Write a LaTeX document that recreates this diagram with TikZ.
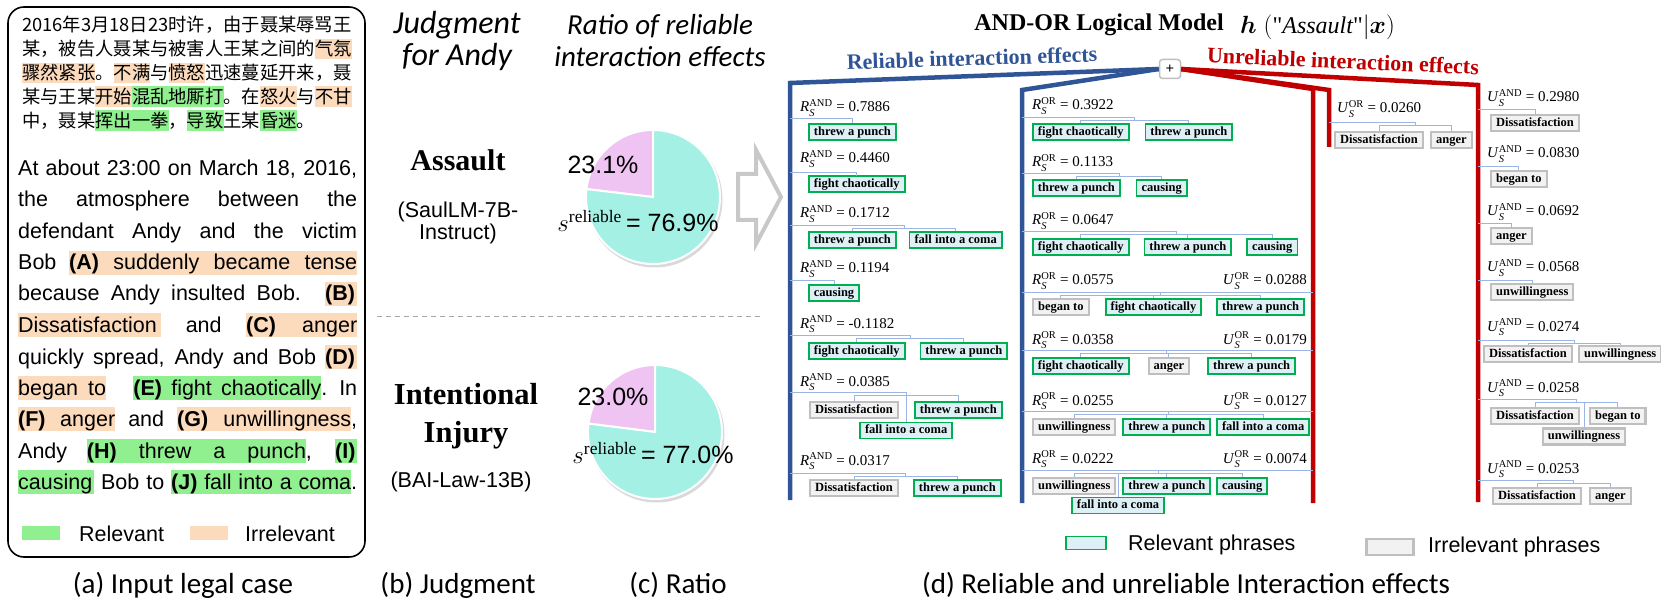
\documentclass[tikz,border=0pt]{standalone}
\usepackage{fontspec}
\usepackage{amsmath}
\setmainfont{Liberation Serif}
\newfontfamily\arialf{Liberation Sans}
\newfontfamily\calf{Carlito}
\newfontfamily\cjk{Noto Sans CJK SC}
\usetikzlibrary{positioning,calc}

\definecolor{hlgr}{RGB}{144,240,144}
\definecolor{hlor}{RGB}{252,218,188}
\definecolor{piepink}{RGB}{239,196,243}
\definecolor{piecyan}{RGB}{164,240,228}
\definecolor{relblue}{RGB}{47,85,151}
\definecolor{unrred}{RGB}{192,0,0}
\definecolor{treeblue}{RGB}{155,182,228}
\definecolor{boxgreen}{RGB}{0,176,80}
\definecolor{boxcyan}{RGB}{221,240,245}
\definecolor{boxgrey}{RGB}{191,191,191}
\definecolor{boxpale}{RGB}{242,242,242}
\definecolor{arrowgrey}{RGB}{200,200,200}

\setlength{\fboxsep}{0pt}
\newcommand\eng{\arialf\fontsize{21.5}{25}\selectfont}
\newcommand\zhf{\cjk\fontsize{18.3}{24}\selectfont}
\newcommand\capf{\calf\fontsize{29}{32}\selectfont}
\newcommand\boxf{\bfseries\fontsize{12.5}{14}\selectfont}
\newcommand\efff{\fontsize{15}{17}\selectfont}
% highlighted phrases of the case text
\newcommand\hlo[2]{\colorbox{hlor}{\makebox[#1pt][s]{\rule[-5pt]{0pt}{24pt}#2}}}
\newcommand\hlg[2]{\colorbox{hlgr}{\makebox[#1pt][s]{\rule[-5pt]{0pt}{24pt}#2}}}
\newcommand\zho[1]{\colorbox{hlor}{\rule[-3.5pt]{0pt}{20.5pt}#1}}
\newcommand\zhg[1]{\colorbox{hlgr}{\rule[-3.5pt]{0pt}{20.5pt}#1}}
\newcommand\rs[2]{\textit{#1}$_{\textit{S}}^{\text{#2}}$}
% tree from a root point on an axis down to its phrase boxes
\newcommand\kidtree[4]{%
  \path ($(#2.center)!.5!(#3.center)$) coordinate (jn);
  \draw[tline] (#1) -- (#1 -| jn) -- ($(#1 -| jn)+(0,3)$);
  \draw[tline] ($(#1 -| #2)+(0,3)$) -- ($(#1 -| #3)+(0,3)$);
  \foreach \kid in {#4} {\draw[tline] ($(#1 -| \kid)+(0,3)$) -- (\kid.north);}
}

\begin{document}
\begin{tikzpicture}[x=1pt, y=-1pt,
    rel/.style={draw=boxgreen, fill=boxcyan, line width=1.8pt, inner xsep=5pt, inner ysep=0pt,
      minimum height=16pt, text height=9pt, text depth=2.5pt, font=\boxf, anchor=west},
    irr/.style={rel, draw=boxgrey, fill=boxpale, line width=2.2pt},
    tline/.style={draw=treeblue, line width=0.9pt},
    eff/.style={anchor=base west, inner sep=0pt, font=\efff},
    effr/.style={eff, anchor=base east},
    relax/.style={draw=relblue, line width=4.5pt},
    unrax/.style={draw=unrred, line width=4.5pt},
    engl/.style={anchor=base west, inner sep=0pt, font=\eng},
    zhl/.style={anchor=base west, inner sep=0pt, font=\zhf},
    capt/.style={font=\capf, inner sep=0pt}
]
\useasboundingbox (0,0) rectangle (1661,601);

% (a) input legal case
\draw[line width=1.6pt, rounded corners=16pt] (8,7) rectangle (365,557);
\node[zhl] (zh0) at (22,32) {2016年3月18日23时许，由于聂某辱骂王};
\node[zhl] (zh1) at (22,55.8) {某，被告人聂某与被害人王某之间的\zho{气氛}};
\node[zhl] (zh2) at (22,79.6) {\zho{骤然紧张}。\zho{不满}与\zho{愤怒}迅速蔓延开来，聂};
\node[zhl] (zh3) at (22,103.4) {某与王某\zho{开始}\zhg{混乱地厮打}。在\zho{怒火}与\zho{不甘}};
\node[zhl] (zh4) at (22,127.2) {中，聂某\zhg{挥出一拳}，\zhg{导致}王某\zhg{昏迷}。};

\node[engl] (en0) at (18,176) {\makebox[339pt][s]{At about 23:00 on March 18, 2016,}};
\node[engl] (en1) at (18,207) {\makebox[339pt][s]{the atmosphere between the}};
\node[engl] (en2) at (18,239) {\makebox[339pt][s]{defendant Andy and the victim}};
\node[engl] (en3) at (18,270) {\makebox[339pt][s]{Bob \hlo{288}{\textbf{(A)} suddenly became tense}}};
\node[engl] (en4) at (18,301) {\makebox[339pt][s]{because Andy insulted Bob. \hlo{32}{\textbf{(B)}}}};
\node[engl] (en5) at (18,332) {\makebox[339pt][s]{\hlo{143}{Dissatisfaction} and \hlo{111}{\textbf{(C)} anger}}};
\node[engl] (en6) at (18,364) {\makebox[339pt][s]{quickly spread, Andy and Bob \hlo{32}{\textbf{(D)}}}};
\node[engl] (en7) at (18,395) {\makebox[339pt][s]{\hlo{88}{began to} \hspace{20pt}\hlg{188}{\textbf{(E)} fight chaotically}. In}};
\node[engl] (en8) at (18,426) {\makebox[339pt][s]{\hlo{97}{\textbf{(F)} anger} and \hlo{174}{\textbf{(G)} unwillingness},}};
\node[engl] (en9) at (18,458) {\makebox[339pt][s]{Andy \hlg{219}{\textbf{(H)} threw a punch}, \hlg{22}{\textbf{(I)}}}};
\node[engl] (en10) at (18,489) {\makebox[339pt][s]{\hlg{76}{causing} Bob to \hlg{180}{\textbf{(J)} fall into a coma}.}};

\node[fill=hlgr, minimum width=38pt, minimum height=14pt, inner sep=0pt] (lgg) at (41,533) {};
\node[engl, anchor=west] (lggt) at (79,534) {Relevant};
\node[fill=hlor, minimum width=38pt, minimum height=14pt, inner sep=0pt] (lgo) at (209,533) {};
\node[engl, anchor=west] (lgot) at (245,534) {Irrelevant};

% (b) judgment and (c) ratio
\node[capt, font=\calf\itshape\fontsize{32}{32}\selectfont, align=center] (judg) at (457,41) {Judgment\\for Andy};
\node[capt, font=\capf\itshape, align=center] (ratio) at (660,41) {Ratio of reliable\\interaction effects};

\node[font=\bfseries\fontsize{30}{34}\selectfont, inner sep=0pt] (assault) at (458,160) {Assault};
\node[font=\eng, align=center, inner sep=0pt] (saul) at (458,223) {(SaulLM-7B-\\[-3pt]Instruct)};
\node[font=\bfseries\fontsize{30.5}{38}\selectfont, align=center, inner sep=0pt] (injury) at (466,416) {Intentional\\Injury};
\node[font=\eng, inner sep=0pt] (bai) at (461,482) {(BAI-Law-13B)};

\draw[black!35, line width=1pt, dash pattern=on 5pt off 4pt] (377,317) -- (760,317);

\begin{scope}[shift={(653,197)}, y=1pt]
  \fill[black!15] (1.5,-2.5) circle[radius=68];
  \filldraw[fill=piepink, draw=white, line width=2pt] (0,0) -- (90:67pt) arc[start angle=90, end angle=173.2, radius=67pt] -- cycle;
  \filldraw[fill=piecyan, draw=white, line width=2pt] (0,0) -- (173.2:67pt) arc[start angle=173.2, end angle=450, radius=67pt] -- cycle;
\end{scope}
\begin{scope}[shift={(655,432)}, y=1pt]
  \fill[black!15] (1.5,-2.5) circle[radius=68];
  \filldraw[fill=piepink, draw=white, line width=2pt] (0,0) -- (90:67pt) arc[start angle=90, end angle=172.8, radius=67pt] -- cycle;
  \filldraw[fill=piecyan, draw=white, line width=2pt] (0,0) -- (172.8:67pt) arc[start angle=172.8, end angle=450, radius=67pt] -- cycle;
\end{scope}
\node[font=\arialf\fontsize{25}{25}\selectfont, inner sep=0pt] (p1a) at (603,165) {23.1\%};
\node[font=\fontsize{25}{25}\selectfont, inner sep=0pt] (p1b) at (638,221) {$s^{\text{reliable}}$\,{\arialf= 76.9\%}};
\node[font=\arialf\fontsize{25}{25}\selectfont, inner sep=0pt] (p2a) at (613,397) {23.0\%};
\node[font=\fontsize{25}{25}\selectfont, inner sep=0pt] (p2b) at (653,453) {$s^{\text{reliable}}$\,{\arialf= 77.0\%}};

\filldraw[draw=arrowgrey, fill=white, line width=4pt, line join=miter]
  (738,174) -- (756,174) -- (756,150) -- (781,197) -- (756,244) -- (756,220) -- (738,220) -- cycle;

% (d) AND-OR logical model
\node[font=\bfseries\fontsize{24}{24}\selectfont, inner sep=0pt] (title) at (1099,25) {AND-OR Logical Model};
\node[font=\fontsize{24}{24}\selectfont, anchor=west, inner sep=0pt] (hfun) at (1240,27)
  {$\boldsymbol{h}\;(\text{\textquotedbl}\mathit{Assault}\text{\textquotedbl}|\boldsymbol{x})$};
\node[font=\bfseries\fontsize{22}{22}\selectfont, text=relblue, rotate=1.8, inner sep=0pt] (reltitle) at (972,58) {Reliable interaction effects};
\node[font=\bfseries\fontsize{22}{22}\selectfont, text=unrred, rotate=-2.5, inner sep=0pt] (unrtitle) at (1343,61) {Unreliable interaction effects};

\node[draw=boxgrey, line width=1.5pt, rounded corners=3pt, fill=white, minimum width=21pt, minimum height=19pt,
  inner sep=0pt, font=\bfseries\fontsize{15}{15}\selectfont] (plus) at (1170,69) {+};
\coordinate (ra) at (790,83);   \coordinate (raend) at (790,500);
\coordinate (rb) at (1022,90);  \coordinate (rbend) at (1022,503);
\coordinate (ub) at (1313,89);  \coordinate (ubend) at (1313,503);
\coordinate (uc) at (1329,90);  \coordinate (ucend) at (1329,147);
\coordinate (ud) at (1478,85);  \coordinate (udend) at (1478,502);
\draw[relax] (plus.west) -- (ra) -- (raend);
\draw[relax] (plus.west) -- (rb) -- (rbend);
\draw[unrax] (plus.east) -- (ub) -- (ubend);
\draw[unrax] (plus.east) -- (uc) -- (ucend);
\draw[unrax] (plus.east) -- (ud) -- (udend);

% reliable AND
\node[eff] (la1) at (800,112) {\rs{R}{AND} = 0.7886};
\node[rel] (a1a) at (808,132) {threw a punch};
\coordinate (ra1) at (790,118); \kidtree{ra1}{a1a}{a1a}{a1a}
\node[eff] (la2) at (800,163) {\rs{R}{AND} = 0.4460};
\node[rel] (a2a) at (808,184) {fight chaotically};
\coordinate (ra2) at (790,172); \kidtree{ra2}{a2a}{a2a}{a2a}
\node[eff] (la3) at (800,218) {\rs{R}{AND} = 0.1712};
\node[rel] (a3a) at (808,240) {threw a punch};
\node[rel, right=12pt of a3a] (a3b) {fall into a coma};
\coordinate (ra3) at (790,225); \kidtree{ra3}{a3a}{a3b}{a3a,a3b}
\node[eff] (la4) at (800,273) {\rs{R}{AND} = 0.1194};
\node[rel] (a4a) at (808,293) {causing};
\coordinate (ra4) at (790,280); \kidtree{ra4}{a4a}{a4a}{a4a}
\node[eff] (la5) at (800,328) {\rs{R}{AND} = -0.1182};
\node[rel] (a5a) at (808,351) {fight chaotically};
\node[rel, right=14pt of a5a] (a5b) {threw a punch};
\coordinate (ra5) at (790,335); \kidtree{ra5}{a5a}{a5b}{a5a,a5b}
\node[eff] (la6) at (800,386) {\rs{R}{AND} = 0.0385};
\node[irr] (a6a) at (809,410) {Dissatisfaction};
\node[rel, right=15pt of a6a] (a6b) {threw a punch};
\path ($(a6a)!.5!(a6b)$) coordinate (m6);
\node[rel, anchor=center] (a6c) at (m6 |- 0,430.5) {fall into a coma};
\coordinate (ra6) at (790,392); \kidtree{ra6}{a6a}{a6b}{a6a,a6b,a6c}
\node[eff] (la7) at (800,465) {\rs{R}{AND} = 0.0317};
\node[irr] (a7a) at (809,488) {Dissatisfaction};
\node[rel, right=14pt of a7a] (a7b) {threw a punch};
\coordinate (ra7) at (790,473); \kidtree{ra7}{a7a}{a7b}{a7a,a7b}

% reliable OR, with unreliable OR on the right
\node[eff] (lb1) at (1032,110) {\rs{R}{OR} = 0.3922};
\node[rel] (b1a) at (1032,132) {fight chaotically};
\node[rel, right=15pt of b1a] (b1b) {threw a punch};
\coordinate (rb1) at (1022,117); \kidtree{rb1}{b1a}{b1b}{b1a,b1b}
\node[eff] (lb2) at (1032,167) {\rs{R}{OR} = 0.1133};
\node[rel] (b2a) at (1032,188) {threw a punch};
\node[rel, right=15pt of b2a] (b2b) {causing};
\coordinate (rb2) at (1022,173); \kidtree{rb2}{b2a}{b2b}{b2a,b2b}
\node[eff] (lb3) at (1032,225) {\rs{R}{OR} = 0.0647};
\node[rel] (b3a) at (1032,247) {fight chaotically};
\node[rel, right=14pt of b3a] (b3b) {threw a punch};
\node[rel, right=14pt of b3b] (b3c) {causing};
\coordinate (rb3) at (1022,231); \kidtree{rb3}{b3a}{b3c}{b3a,b3b,b3c}
\node[eff] (lb4) at (1032,285) {\rs{R}{OR} = 0.0575};
\node[effr] (ub4) at (1307,285) {\rs{U}{OR} = 0.0288};
\node[irr] (b4a) at (1032,307) {began to};
\node[rel, right=15pt of b4a] (b4b) {fight chaotically};
\node[rel, right=14pt of b4b] (b4c) {threw a punch};
\coordinate (rb4) at (1022,292); \draw[tline] (rb4) -- (rb4 -| ub);
\kidtree{rb4}{b4a}{b4c}{b4a,b4b,b4c}
\node[eff] (lb5) at (1032,344) {\rs{R}{OR} = 0.0358};
\node[effr] (ub5) at (1307,344) {\rs{U}{OR} = 0.0179};
\node[rel] (b5a) at (1032,366) {fight chaotically};
\node[irr, right=18pt of b5a] (b5b) {anger};
\node[rel, right=17pt of b5b] (b5c) {threw a punch};
\coordinate (rb5) at (1022,350); \draw[tline] (rb5) -- (rb5 -| ub);
\kidtree{rb5}{b5a}{b5c}{b5a,b5b,b5c}
\node[eff] (lb6) at (1032,405) {\rs{R}{OR} = 0.0255};
\node[effr] (ub6) at (1307,405) {\rs{U}{OR} = 0.0127};
\node[irr] (b6a) at (1032,427) {unwillingness};
\node[rel, right=6pt of b6a] (b6b) {threw a punch};
\node[rel, right=5pt of b6b] (b6c) {fall into a coma};
\coordinate (rb6) at (1022,411); \draw[tline] (rb6) -- (rb6 -| ub);
\kidtree{rb6}{b6a}{b6c}{b6a,b6b,b6c}
\node[eff] (lb7) at (1032,463) {\rs{R}{OR} = 0.0222};
\node[effr] (ub7) at (1307,463) {\rs{U}{OR} = 0.0074};
\node[irr] (b7a) at (1032,486) {unwillingness};
\node[rel, right=6pt of b7a] (b7b) {threw a punch};
\node[rel, right=5pt of b7b] (b7c) {causing};
\node[rel, anchor=center] (b7d) at (1118,505.5) {fall into a coma};
\coordinate (rb7) at (1022,470); \draw[tline] (rb7) -- (rb7 -| ub);
\kidtree{rb7}{b7a}{b7c}{b7a,b7b,b7c,b7d}

% unreliable OR
\node[eff] (lc1) at (1337,113) {\rs{U}{OR} = 0.0260};
\node[irr] (c1a) at (1334,140) {Dissatisfaction};
\node[irr, right=6pt of c1a] (c1b) {anger};
\coordinate (rc1) at (1329,122); \kidtree{rc1}{c1a}{c1b}{c1a,c1b}

% unreliable AND
\node[eff] (ld1) at (1487,102) {\rs{U}{AND} = 0.2980};
\node[irr] (d1a) at (1490,123) {Dissatisfaction};
\coordinate (rd1) at (1478,109); \kidtree{rd1}{d1a}{d1a}{d1a}
\node[eff] (ld2) at (1487,158) {\rs{U}{AND} = 0.0830};
\node[irr] (d2a) at (1490,179) {began to};
\coordinate (rd2) at (1478,166); \kidtree{rd2}{d2a}{d2a}{d2a}
\node[eff] (ld3) at (1487,216) {\rs{U}{AND} = 0.0692};
\node[irr] (d3a) at (1490,236) {anger};
\coordinate (rd3) at (1478,223); \kidtree{rd3}{d3a}{d3a}{d3a}
\node[eff] (ld4) at (1487,272) {\rs{U}{AND} = 0.0568};
\node[irr] (d4a) at (1490,292) {unwillingness};
\coordinate (rd4) at (1478,280); \kidtree{rd4}{d4a}{d4a}{d4a}
\node[eff] (ld5) at (1487,331) {\rs{U}{AND} = 0.0274};
\node[irr] (d5a) at (1483,354) {Dissatisfaction};
\node[irr, right=5pt of d5a] (d5b) {unwillingness};
\coordinate (rd5) at (1478,340); \kidtree{rd5}{d5a}{d5b}{d5a,d5b}
\node[eff] (ld6) at (1487,392) {\rs{U}{AND} = 0.0258};
\node[irr] (d6a) at (1490,416) {Dissatisfaction};
\node[irr, right=9pt of d6a] (d6b) {began to};
\node[irr, anchor=center] (d6c) at (1584,436.5) {unwillingness};
\coordinate (rd6) at (1478,399); \kidtree{rd6}{d6a}{d6b}{d6a,d6b,d6c}
\node[eff] (ld7) at (1487,473) {\rs{U}{AND} = 0.0253};
\node[irr] (d7a) at (1492,496) {Dissatisfaction};
\node[irr, right=7pt of d7a] (d7b) {anger};
\coordinate (rd7) at (1478,480); \kidtree{rd7}{d7a}{d7b}{d7a,d7b}

% legend of phrases
\node[rel, anchor=center, minimum width=40pt, minimum height=13pt, text height=0pt, text depth=0pt] (legrel) at (1086,543) {};
\node[engl, anchor=west] (legrelt) at (1128,545) {Relevant phrases};
\node[irr, anchor=center, minimum width=47pt, minimum height=16pt, text height=0pt, text depth=0pt, line width=2.5pt] (legirr) at (1390,547) {};
\node[engl, anchor=west] (legirrt) at (1428,547) {Irrelevant phrases};

% captions
\node[capt] (capa) at (183,585) {(a) Input legal case};
\node[capt] (capb) at (458,585) {(b) Judgment};
\node[capt] (capc) at (678,585) {(c) Ratio};
\node[capt] (capd) at (1186,585) {(d) Reliable and unreliable Interaction effects};
\end{tikzpicture}
\end{document}
